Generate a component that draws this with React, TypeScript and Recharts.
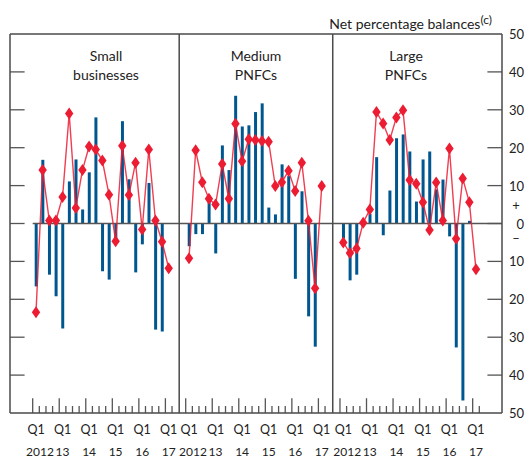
import { ComposedChart, Bar, Line, XAxis, YAxis, ReferenceLine } from 'recharts'

const quarterCount = 21
const yearLabels = ['2012', '13', '14', '15', '16', '17']
const panelNames = [['Small', 'businesses'], ['Medium', 'PNFCs'], ['Large', 'PNFCs']]
const yTicks = [50, 40, 30, 20, 10, 0, -10, -20, -30, -40, -50]

// bars: change over past three months; diamonds: expected change
const smallBars = [-16.6, 16.8, -13.5, -19.2, -27.7, 11.1, 16.9, 3.7, 13.5, 28.0, -12.6, -14.8, -5, 27.0, 11.7, -12.9, -5.5, 10.7, -28.0, -28.5, null]
const smallLine = [-23.4, 14.1, 0.8, 0.8, 7.0, 29.0, 4.1, 14.1, 20.3, 19.5, 16.6, 7.6, -4.7, 20.5, 7.5, 16.0, -1.6, 19.5, 0.8, -4.8, -11.8]
const mediumBars = [-6.0, -2.8, -2.8, 6, -7.9, 20.6, 14.1, 33.7, 25.6, 25.9, 29.4, 31.7, 4.2, 2.4, 15.6, 12.5, -14.6, 8.5, -24.5, -32.5, null]
const mediumLine = [-9.2, 19.3, 10.9, 6.5, 5.0, 15.7, 6.5, 26.3, 16.4, 22.2, 22.0, 21.8, 21.6, 9.9, 10.9, 13.9, 8.6, 16.0, 0.7, -17.1, 9.9]
const largeBars = [-4, -15.0, -13.5, null, 2.5, 17.5, -3.1, 8.7, 22.5, 23.5, 19.0, 5.8, 16.9, 19.0, 9, 11.6, -3.4, -32.7, -46.7, 0.7, null]
const largeLine = [-5.0, -7.8, -6.6, 0.2, 3.7, 29.4, 26.4, 22.0, 28.0, 29.9, 11.5, 10.5, 5.6, -1.7, 10.8, 0.8, 19.8, -4.0, 11.9, 5.6, -12.1]

const panelBars = [smallBars, mediumBars, largeBars]
const panelLines = [smallLine, mediumLine, largeLine]

// x layout, in quarters from the left frame edge
const panelStart = [3.92, 26.98, 50.23]
const xMax = 74.15
const dividers = [25.5, 48.64]

const BLUE = '#00578f'
const RED = '#ec1c32'
const FRAME = '#4a4a4a'
const FONT = 'Lato, "Open Sans", sans-serif'

const rows: any[] = []
panelBars.forEach((bars, p) => {
  for (let i = 0; i < quarterCount; i++) {
    const row: any = { u: panelStart[p] + i, bar: bars[i] }
    row['line' + p] = panelLines[p][i]
    rows.push(row)
  }
})

const q1Ticks: number[] = []
panelStart.forEach(s => { for (let k = 0; k < yearLabels.length; k++) q1Ticks.push(s + 4 * k) })

function Diamond(props: any) {
  const { cx, cy, index } = props
  if (cx == null || cy == null || isNaN(cy)) return <g key={'d' + index} />
  return <path key={'d' + index} d={`M${cx},${cy - 6} L${cx + 4.2},${cy} L${cx},${cy + 6} L${cx - 4.2},${cy} Z`} fill={RED} />
}

function XTick(props: any) {
  const { x, payload } = props
  const v = payload.value
  const p = v < dividers[0] ? 0 : v < dividers[1] ? 1 : 2
  const k = Math.round((v - panelStart[p]) / 4)
  return (
    <g>
      <text x={x} y={429} textAnchor="middle" dominantBaseline="central" fill="#222" fontSize={12.5} fontFamily={FONT}>Q1</text>
      <text x={k === 0 ? x + 4 : x} y={451} textAnchor="middle" dominantBaseline="central" fill="#222" fontSize={12} fontFamily={FONT}>{yearLabels[k]}</text>
    </g>
  )
}

function YTick(props: any) {
  const { y, payload } = props
  const v = payload.value
  const style = { fill: '#222', fontSize: 13, fontFamily: FONT }
  return (
    <g>
      <text x={524} y={y} textAnchor="end" dominantBaseline="central" {...style}>{Math.abs(v)}</text>
      {v === 0 && <text x={516} y={y - 19} textAnchor="middle" dominantBaseline="central" {...style}>+</text>}
      {v === 0 && <text x={516} y={y + 14} textAnchor="middle" dominantBaseline="central" {...style}>{'\u2013'}</text>}
    </g>
  )
}

const bottomTicks: { x: number; h: number }[] = []
panelStart.forEach(s => {
  for (let k = 0; k <= quarterCount; k++) bottomTicks.push({ x: s - 0.5 + k, h: k % 4 === 0 ? 3.9 : 1.85 })
})
const sideTicks = yTicks.filter(v => Math.abs(v) < 50)

export default function App() {
  const labelCenters = [106, 256, 406]
  return (
    <div style={{ position: 'absolute', left: 0, top: 0, width: 532, height: 457, background: '#fff' }}>
      <div style={{ position: 'absolute', right: 40, top: 11, fontFamily: FONT, fontSize: 14, color: '#222', whiteSpace: 'nowrap', lineHeight: '17px' }}>
        Net percentage balances<span style={{ fontSize: 12, verticalAlign: 5 }}>(c)</span>
      </div>
      {panelNames.map((lines, p) => (
        <div key={p} style={{ position: 'absolute', left: labelCenters[p] - 60, width: 120, top: 46, textAlign: 'center', fontFamily: FONT, fontSize: 14, lineHeight: '19px', color: '#222' }}>
          {lines[0]}<br />{lines[1]}
        </div>
      ))}
      <div style={{ position: 'absolute', left: 0, top: 0 }}>
        <ComposedChart width={532} height={457} data={rows} margin={{ top: 34, right: 0, left: 10, bottom: 0 }}>
          <XAxis type="number" dataKey="u" domain={[0, xMax]} ticks={q1Ticks} interval={0} tick={<XTick />} axisLine={false} tickLine={false} height={44} allowDataOverflow />
          <YAxis orientation="right" type="number" domain={[-50, 50]} ticks={yTicks} interval={0} tick={<YTick />} axisLine={false} tickLine={false} width={30} allowDataOverflow />
          <ReferenceLine segment={[{ x: panelStart[0] - 0.5, y: 0 }, { x: xMax, y: 0 }]} stroke="#555" strokeWidth={1.5} />
          {sideTicks.map(v => (
            <ReferenceLine key={'l' + v} segment={[{ x: 0, y: v }, { x: 2.2, y: v }]} stroke="#555" strokeWidth={1.3} />
          ))}
          {sideTicks.map(v => (
            <ReferenceLine key={'r' + v} segment={[{ x: xMax - 2.2, y: v }, { x: xMax, y: v }]} stroke="#555" strokeWidth={1.3} />
          ))}
          {bottomTicks.map((t, i) => (
            <ReferenceLine key={'b' + i} segment={[{ x: t.x, y: -50 }, { x: t.x, y: -50 + t.h }]} stroke="#555" strokeWidth={1.3} />
          ))}
          <Bar dataKey="bar" fill={BLUE} barSize={3} isAnimationActive={false} />
          {[0, 1, 2].map(p => (
            <Line key={p} dataKey={'line' + p} type="linear" stroke={RED} strokeWidth={1.4} strokeOpacity={0.85} connectNulls={false} dot={Diamond} activeDot={false} isAnimationActive={false} />
          ))}
          <ReferenceLine x={0} stroke={FRAME} strokeWidth={1.5} />
          <ReferenceLine x={xMax} stroke={FRAME} strokeWidth={1.5} />
          <ReferenceLine y={50} stroke={FRAME} strokeWidth={1.5} />
          <ReferenceLine y={-50} stroke={FRAME} strokeWidth={1.5} />
          {dividers.map(d => <ReferenceLine key={d} x={d} stroke={FRAME} strokeWidth={1.5} />)}
        </ComposedChart>
      </div>
    </div>
  )
}
